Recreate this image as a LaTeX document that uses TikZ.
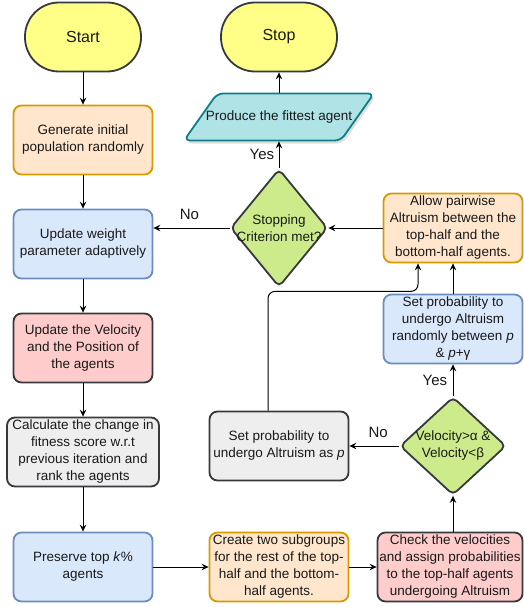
\documentclass[tikz,border=0pt]{standalone}
\usepackage{fontspec}
\setmainfont{Liberation Sans}
\usetikzlibrary{shapes.geometric, shadows, arrows.meta}

\definecolor{termfill}{HTML}{FFFF88}
\definecolor{darkline}{HTML}{36393D}
\definecolor{orfill}{HTML}{FFE6CC}
\definecolor{orline}{HTML}{D79B00}
\definecolor{blfill}{HTML}{DAE8FC}
\definecolor{blline}{HTML}{6C8EBF}
\definecolor{rdfill}{HTML}{FFCCCC}
\definecolor{gyfill}{HTML}{EEEEEE}
\definecolor{grfill}{HTML}{CDEB8B}
\definecolor{tlfill}{HTML}{B0E3E6}
\definecolor{tlline}{HTML}{0E8088}

\begin{document}
\begin{tikzpicture}[>={Stealth[length=7pt, width=6.5pt, inset=2.5pt]}, x=1pt, y=-1pt,
  every node/.style={font=\fontsize{13.5}{17}\selectfont, align=center, text=black!90},
  term/.style={draw=darkline, fill=termfill, line width=1.8pt, rounded corners=34pt,
    minimum width=116pt, minimum height=69pt, font=\fontsize{16}{19}\selectfont},
  box/.style={draw, rounded corners=8pt, line width=1.8pt, minimum width=139pt,
    minimum height=69pt, inner sep=1pt},
  orbox/.style={box, draw=orline, fill=orfill},
  blbox/.style={box, draw=blline, fill=blfill},
  rdbox/.style={box, draw=darkline, fill=rdfill},
  gybox/.style={box, draw=darkline, fill=gyfill},
  decision/.style={diamond, draw=darkline, fill=grfill, line width=1.8pt,
    rounded corners=5pt, inner sep=0pt},
  io/.style={trapezium, trapezium left angle=75, trapezium right angle=105,
    trapezium stretches=true, draw=tlline, fill=tlfill, line width=1.8pt,
    rounded corners=6pt, minimum width=190pt, minimum height=47pt,
    drop shadow={opacity=0.25, shadow xshift=2pt, shadow yshift=-3pt}},
  answer/.style={font=\fontsize{15}{18}\selectfont},
  flow/.style={->, line width=1pt, black}
]
\useasboundingbox (0,0) rectangle (523,607);

% left column
\node[term] (start) at (83,37) {Start};
\node[orbox] (gen) at (83,140) {Generate initial\\population randomly};
\node[blbox] (weight) at (83,244) {Update weight\\parameter adaptively};
\node[rdbox] (vel) at (83,348) {Update the Velocity\\and the Position of\\the agents};
\node[gybox, minimum width=152pt] (calc) at (83,452) {Calculate the change in\\fitness score w.r.t\\previous iteration and\\rank the agents};
\node[blbox] (pres) at (83,567) {Preserve top \textit{k}\%\\agents};

% middle column
\node[term] (stop) at (279,37) {Stop};
\node[io] (produce) at (279,117) {};
\node at (produce) {Produce the fittest agent};
\node[decision, minimum width=97pt, minimum height=118pt] (stopq) at (279,228) {};
\node at (stopq) {Stopping\\Criterion met?};
\node[gybox] (setp) at (279,446) {Set probability to\\undergo Altruism as \textit{p}};
\node[orbox] (create) at (279,567) {Create two subgroups\\for the rest of the top-\\half and the bottom-\\half agents.};

% right column
\node[orbox] (allow) at (453,228) {Allow pairwise\\Altruism between the\\top-half and the\\bottom-half agents.};
\node[blbox] (setr) at (453,329) {Set probability to\\undergo Altruism\\randomly between \textit{p}\\\& \textit{p}+γ};
\node[decision, minimum width=106pt, minimum height=98pt] (velq) at (453,446) {};
\node at (velq) {Velocity>α \&\\Velocity<β};
\node[rdbox, minimum width=145pt] (check) at (450,567) {Check the velocities\\and assign probabilities\\to the top-half agents\\undergoing Altruism};

% connectors
\draw[flow] (start) -- (gen);
\draw[flow] (gen) -- (weight);
\draw[flow] (weight) -- (vel);
\draw[flow] (vel) -- (calc);
\draw[flow] (calc) -- (pres);
\draw[flow] (pres) -- (create);
\draw[flow] (create) -- (check);
\draw[flow] (check.north -| velq.south) -- (velq.south);
\draw[flow] (velq) -- node[answer, left, xshift=-2pt] {Yes} (setr);
\draw[flow] (velq) -- node[answer, above, yshift=5pt, xshift=4pt] {No} (setp);
\draw[flow] (setr) -- (allow);
\draw[flow, rounded corners=7pt] ([xshift=-11pt]setp.north) |- ([xshift=-35pt, yshift=-28pt]allow.south) -- ([xshift=-35pt]allow.south);
\draw[flow] (allow) -- (stopq);
\draw[flow] (stopq.west) -- node[answer, above, yshift=5pt, xshift=-2pt] {No} (stopq.west -| weight.east);
\draw[flow] (stopq) -- node[answer, left, xshift=-1pt] {Yes} (produce);
\draw[flow] (produce) -- (stop);
\end{tikzpicture}
\end{document}
